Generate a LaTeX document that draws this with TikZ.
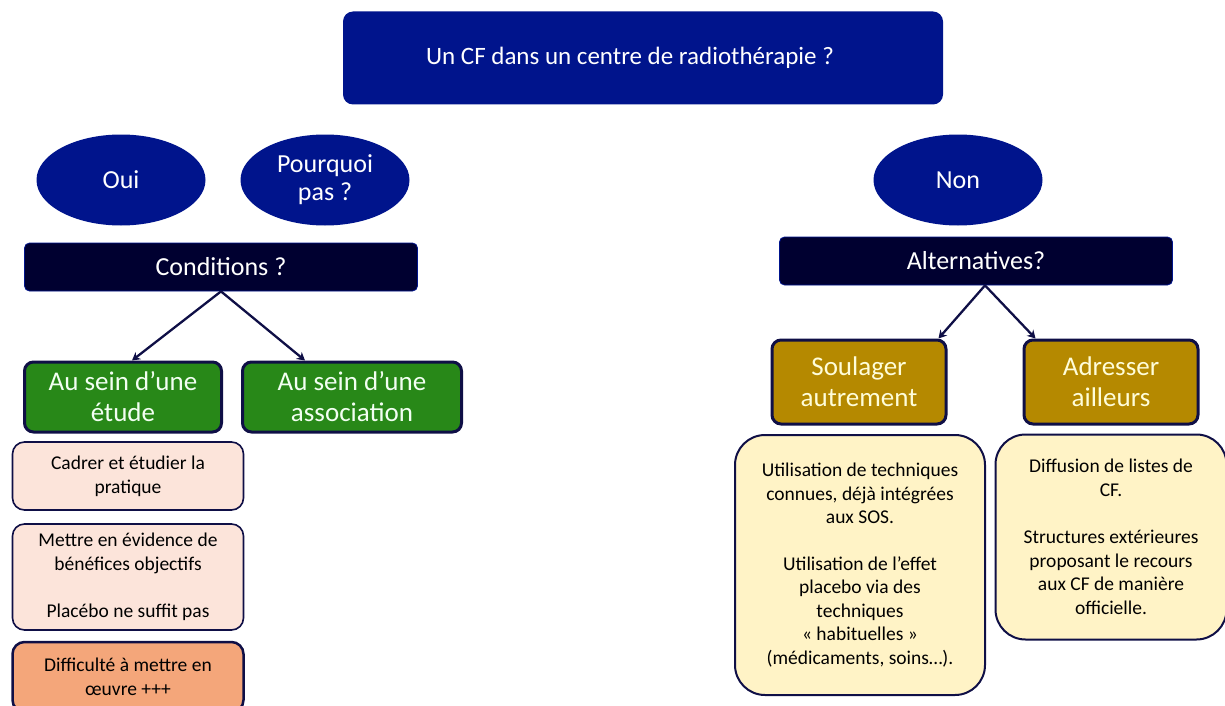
\documentclass[tikz,border=0pt]{standalone}
\usepackage{fontspec}
\setmainfont{Carlito}
\usetikzlibrary{shapes.geometric}
\usetikzlibrary{arrows.meta}
\usetikzlibrary{positioning,calc}

\definecolor{royal}{RGB}{0,20,140}
\definecolor{nightblue}{RGB}{0,0,48}
\definecolor{edgeblue}{RGB}{15,15,70}
\definecolor{leafgreen}{RGB}{40,136,24}
\definecolor{ochre}{RGB}{181,137,0}
\definecolor{blush}{RGB}{252,228,218}
\definecolor{salmon}{RGB}{244,166,122}
\definecolor{cream}{RGB}{255,243,198}

\begin{document}
\begin{tikzpicture}
	[x=1pt, y=-1pt, thick,
	 title/.style = {rectangle, rounded corners=10pt, fill=royal, text=white, minimum width=600pt, minimum height=93pt, font=\fontsize{25}{29}\selectfont},
	 answer/.style = {ellipse, fill=royal, text=white, minimum width=169pt, minimum height=91pt, inner sep=0pt, align=center, font=\fontsize{26}{28}\selectfont},
	 question/.style = {rectangle, rounded corners=5pt, fill=nightblue, draw=royal, line width=0.8pt, text=white, minimum width=393pt, minimum height=48pt, font=\fontsize{26}{29}\selectfont},
	 choice/.style = {rectangle, rounded corners=9pt, draw=edgeblue, line width=3pt, minimum height=70pt, inner sep=2pt, align=center, font=\fontsize{27}{31}\selectfont},
	 note/.style = {rectangle, rounded corners=12pt, draw=edgeblue, line width=1.6pt, minimum width=231pt, inner sep=2pt, align=center, text=black, font=\fontsize{19.5}{24}\selectfont},
	 idea/.style = {rectangle, rounded corners=30pt, draw=edgeblue, fill=cream, line width=2pt, inner sep=2pt, align=center, text=black, font=\fontsize{19.5}{23.5}\selectfont},
	 link/.style = {draw=edgeblue, line width=2.3pt, -{Stealth[length=8pt,width=9pt]}}]
	\useasboundingbox (0,0) rectangle (1225,706);

	\node[title] (top) at (643,58) {Un CF dans un centre de radiothérapie ?\hspace*{26pt}};

	\node[answer] (oui) at (121,180) {Oui};
	\node[answer] (pourquoi) at (325,180) {Pourquoi\\pas ?};
	\node[answer] (non) at (958,180) {Non};

	\node[question] (cond) at (221,267) {Conditions ?};
	\node[question] (alt) at (976,261) {Alternatives?};

	% left branch
	\node[choice, fill=leafgreen, text=green!5, minimum width=197pt] (etude) at (123,397) {Au sein d’une\\étude};
	\node[choice, fill=leafgreen, text=green!5, minimum width=219pt] (assoc) at (352,397) {Au sein d’une\\association};

	\node[note, fill=blush, minimum height=68pt] (cadrer) at (128,476) {Cadrer et étudier la\\pratique};
	\node[note, fill=blush, minimum height=106pt] (mettre) at (128,577) {Mettre en évidence de\\bénéfices objectifs\\[23pt]Placébo ne suffit pas};
	\node[note, fill=salmon, line width=2.5pt, minimum height=70pt] (diff) at (128,677) {Difficulté à mettre en\\œuvre +++};

	% right branch
	\node[choice, fill=ochre, text=yellow!15, minimum width=174pt, minimum height=84pt] (soulager) at (859,382) {Soulager\\autrement};
	\node[choice, fill=ochre, text=yellow!15, minimum width=174pt, minimum height=84pt] (adresser) at (1111,382) {Adresser\\ailleurs};

	\node[idea, minimum width=250pt, minimum height=260pt] (utilisation) at (860,565) {Utilisation de techniques\\connues, déjà intégrées\\aux SOS.\\[23pt]Utilisation de l’effet\\placebo via des\\techniques\\«~habituelles~»\\(médicaments, soins…).};
	\node[idea, minimum width=231pt, minimum height=205pt] (diffusion) at (1111,537) {Diffusion de listes de\\CF.\\[24pt]Structures extérieures\\proposant le recours\\aux CF de manière\\officielle.};

	\draw[link] (cond.south) -- ($(etude.north)+(9,0)$);
	\draw[link] (cond.south) -- ($(assoc.north west)+(64,0)$);
	\draw[link] ($(alt.south)+(9,0)$) -- ($(soulager.north east)+(-9,0)$);
	\draw[link] ($(alt.south)+(9,0)$) -- ($(adresser.north west)+(13,0)$);

\end{tikzpicture}
\end{document}
